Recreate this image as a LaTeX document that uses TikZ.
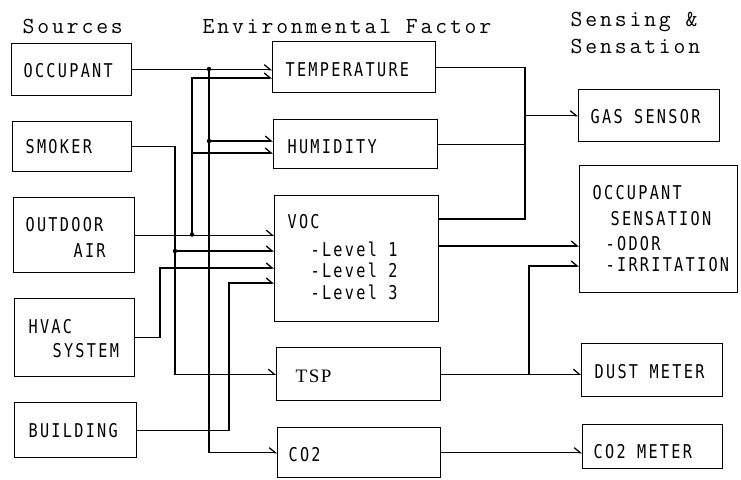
\documentclass[tikz,border=0pt]{standalone}
\usepackage{fontspec}
\usetikzlibrary{arrows.meta}
\newfontfamily\hdrfont[LetterSpace=12.5]{Latin Modern Mono}
\newfontfamily\bxfont[FakeStretch=0.8,LetterSpace=12]{DejaVu Sans Mono}
\newfontfamily\serfont[LetterSpace=8]{Liberation Serif}
\begin{document}
\begin{tikzpicture}[x=1pt,y=-1pt,line width=1.3pt,
  box/.style={draw,rectangle,inner sep=0pt,anchor=north west},
  lbl/.style={anchor=base west,inner sep=0pt,font=\bxfont\fontsize{19}{20}\selectfont},
  hdr/.style={anchor=base west,inner sep=0pt,font=\hdrfont\fontsize{23}{26}\selectfont},
  arr/.style={-{Straight Barb[harpoon,length=6pt,width=10pt]}},
  dot/.style={circle,fill,inner sep=0pt,minimum size=4.5pt}]
\useasboundingbox (0,0) rectangle (741,479);
% headers
\node[hdr] (h1) at (22,33) {Sources};
\node[hdr] (h2) at (202,33) {Environmental Factor};
\node[hdr] (h3) at (570,26) {Sensing \&};
\node[hdr] (h4) at (570,53) {Sensation};
% source boxes
\node[box,minimum width=120,minimum height=52] (occ) at (11,43) {};
\node[box,minimum width=119,minimum height=50] (smk) at (12,121) {};
\node[box,minimum width=121,minimum height=75] (out) at (13,197) {};
\node[box,minimum width=120,minimum height=78] (hvac) at (14,298) {};
\node[box,minimum width=122,minimum height=55] (bld) at (14,402) {};
% factor boxes
\node[box,minimum width=163,minimum height=51] (temp) at (272,41) {};
\node[box,minimum width=164,minimum height=49] (hum) at (273,119) {};
\node[box,minimum width=164,minimum height=126] (voc) at (274,195) {};
\node[box,minimum width=164,minimum height=53] (tsp) at (276,347) {};
\node[box,minimum width=163,minimum height=50] (co2) at (277,427) {};
% sensing boxes
\node[box,minimum width=141,minimum height=52] (gas) at (578,89) {};
\node[box,minimum width=158,minimum height=127] (occs) at (579,165) {};
\node[box,minimum width=141,minimum height=53] (dust) at (581,343) {};
\node[box,minimum width=140,minimum height=44] (co2m) at (582,424) {};
% labels
\node[lbl] (t1) at (23,77) {OCCUPANT};
\node[lbl] (t2) at (25,153) {SMOKER};
\node[lbl] (t3) at (25,231) {OUTDOOR};
\node[lbl] (t4) at (73,257) {AIR};
\node[lbl] (t5) at (28,333) {HVAC};
\node[lbl] (t6) at (52,357) {SYSTEM};
\node[lbl] (t7) at (28,437) {BUILDING};
\node[lbl] (t8) at (285,76) {TEMPERATURE};
\node[lbl] (t9) at (287,153) {HUMIDITY};
\node[lbl] (t10) at (287,228) {VOC};
\node[lbl] (t11) at (310,256) {-Level 1};
\node[lbl] (t12) at (310,277) {-Level 2};
\node[lbl] (t13) at (310,299) {-Level 3};
\node[anchor=base west,inner sep=0pt,font=\serfont\fontsize{19}{20}\selectfont] (t14) at (295,382) {TSP};
\node[lbl] (t15) at (288,461) {CO2};
\node[lbl] (t16) at (590,123) {GAS SENSOR};
\node[lbl] (t17) at (592,199) {OCCUPANT};
\node[lbl] (t18) at (610,225) {SENSATION};
\node[lbl] (t19) at (605,250) {-ODOR};
\node[lbl] (t20) at (605,271) {-IRRITATION};
\node[lbl] (t21) at (594,378) {DUST METER};
\node[lbl] (t22) at (593,458) {CO2 METER};
% helper coordinates
\coordinate (j1) at (209,69);
\coordinate (j1b) at (209,141);
\coordinate (j2) at (192,234.5);
\coordinate (xs) at (175,0);
\coordinate (xh) at (160,0);
\coordinate (xb) at (229,0);
\coordinate (gx) at (525,0);
\coordinate (tx) at (529,0);
% source connectors
\draw[arr] (occ.east) -- (temp.west |- occ.east);
\draw[arr] (j1) |- (co2.west);
\draw[arr] (j1b) -- (hum.west |- j1b);
\draw[arr] (out.east) -- (voc.west |- out.east);
\draw[arr] (j2) |- (temp.west |- 0,78);
\draw[arr] (j2 |- 0,153) -- (hum.west |- 0,153);
\draw[arr] (smk.east) -| (xs |- tsp.west) -- (tsp.west);
\draw[arr] (xs |- 0,251) -- (voc.west |- 0,251);
\draw[arr] (hvac.east) -| (xh |- 0,268) -- (voc.west |- 0,268);
\draw[arr] (bld.east) -| (xb |- 0,283) -- (voc.west |- 0,283);
\node[dot] (d1) at (j1) {};
\node[dot] (d2) at (j1b) {};
\node[dot] (d3) at (j2) {};
\node[dot] (d4) at (xs |- 0,251) {};
% factor connectors
\draw (temp.east) -| (gx |- 0,219) -- (voc.east |- 0,219);
\draw (hum.east) -- (hum.east -| gx);
\draw[arr] (gx |- gas.west) -- (gas.west);
\draw[arr] (voc.east |- 0,246) -- (occs.west |- 0,246);
\draw[arr] (tsp.east) -- (dust.west |- tsp.east);
\draw[arr] (tx |- tsp.east) |- (occs.west |- 0,266);
\draw[arr] (co2.east) -- (co2m.west |- co2.east);
\end{tikzpicture}
\end{document}
